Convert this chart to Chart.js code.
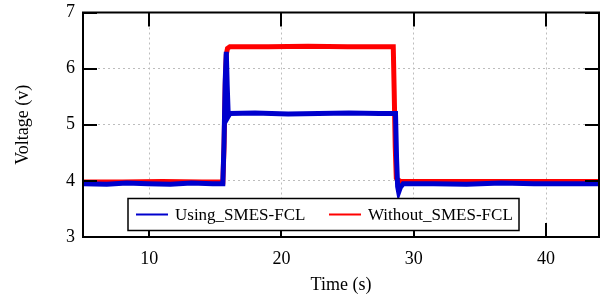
<!DOCTYPE html>
<html>
<head>
<meta charset="utf-8">
<script src="https://cdn.jsdelivr.net/npm/chart.js@4.4.0/dist/chart.umd.min.js"></script>
<style>
  html, body { margin: 0; padding: 0; background: #fff; }
</style>
</head>
<body>
<canvas id="chart" width="603" height="296"></canvas>
<script>
// Datos
const usingTime = [5, 6.8, 8.3, 9.9, 11.6, 13.2, 14.8, 15.57, 15.66, 15.75, 15.83, 15.9, 15.98, 16.1, 18.0, 20.5, 22.8, 25.1, 27.4, 28.62, 28.7, 28.78, 28.86, 28.98, 29.2, 31.5, 34.0, 36.6, 39.1, 41.7, 44];
const usingVolt = [3.95, 3.94, 3.96, 3.95, 3.94, 3.96, 3.95, 3.95, 4.7, 5.8, 6.3, 5.7, 5.15, 5.2, 5.21, 5.19, 5.2, 5.21, 5.2, 5.2, 4.4, 3.9, 3.8, 3.88, 3.95, 3.95, 3.94, 3.96, 3.95, 3.95, 3.95];

const withoutTime = [5, 8.0, 11.0, 14.0, 15.57, 15.66, 15.75, 15.83, 15.92, 16.1, 19.0, 22.0, 25.0, 28.45, 28.52, 28.6, 28.68, 28.78, 29.0, 33.0, 38.0, 44];
const withoutVolt = [3.98, 3.98, 3.99, 3.98, 3.98, 4.6, 5.7, 6.25, 6.36, 6.39, 6.39, 6.4, 6.39, 6.39, 5.6, 4.6, 4.05, 4.02, 3.99, 3.99, 3.99, 3.99];

const xTicks = [10, 20, 30, 40];
const yTicks = [3, 4, 5, 6, 7];

const seriesLabels = ['Using_SMES-FCL', 'Without_SMES-FCL'];
const seriesColors = ['#0000cd', '#ff0000'];

const serif = 'Liberation Serif';

const toPoints = (xs, ys) => xs.map((x, i) => ({ x, y: ys[i] }));

// Marco, marcas hacia dentro y leyenda dentro del área
const frameAndLegend = {
  id: 'frameAndLegend',
  afterDatasetsDraw(chart) {
    const { ctx, chartArea: a, scales: { x, y } } = chart;
    ctx.save();
    ctx.strokeStyle = '#000';
    ctx.lineWidth = 2;
    ctx.beginPath();
    xTicks.forEach(v => {
      const px = Math.round(x.getPixelForValue(v));
      ctx.moveTo(px, a.bottom); ctx.lineTo(px, a.bottom - 14);
      ctx.moveTo(px, a.top); ctx.lineTo(px, a.top + 14);
    });
    yTicks.forEach(v => {
      const py = Math.round(y.getPixelForValue(v));
      ctx.moveTo(a.left, py); ctx.lineTo(a.left + 14, py);
      ctx.moveTo(a.right, py); ctx.lineTo(a.right - 14, py);
    });
    ctx.stroke();
    ctx.strokeRect(a.left, a.top, a.right - a.left, a.bottom - a.top);

    // leyenda
    const bx = a.left + 45, by = a.top + 186, bw = 391, bh = 32;
    ctx.fillStyle = '#fff';
    ctx.fillRect(bx, by, bw, bh);
    ctx.lineWidth = 1.5;
    ctx.strokeRect(bx, by, bw, bh);
    ctx.font = '17px "' + serif + '"';
    ctx.textBaseline = 'middle';
    const items = [
      { x: bx + 8, label: seriesLabels[0], color: seriesColors[0] },
      { x: bx + 201, label: seriesLabels[1], color: seriesColors[1] }
    ];
    items.forEach(it => {
      ctx.strokeStyle = it.color;
      ctx.lineWidth = 2;
      ctx.beginPath();
      ctx.moveTo(it.x, by + bh / 2);
      ctx.lineTo(it.x + 32, by + bh / 2);
      ctx.stroke();
      ctx.fillStyle = '#000';
      ctx.fillText(it.label, it.x + 39, by + bh / 2 + 1);
    });
    ctx.restore();
  }
};

new Chart(document.getElementById('chart'), {
  type: 'line',
  data: {
    datasets: [
      {
        label: seriesLabels[0],
        data: toPoints(usingTime, usingVolt),
        borderColor: seriesColors[0],
        borderWidth: 5,
        pointRadius: 0,
        tension: 0,
        order: 1
      },
      {
        label: seriesLabels[1],
        data: toPoints(withoutTime, withoutVolt),
        borderColor: seriesColors[1],
        borderWidth: 5,
        pointRadius: 0,
        tension: 0,
        order: 2
      }
    ]
  },
  options: {
    responsive: false,
    animation: false,
    layout: { padding: { top: 11, right: 4, left: 0, bottom: 0 } },
    plugins: { legend: { display: false }, tooltip: { enabled: false } },
    scales: {
      x: {
        type: 'linear',
        min: 5,
        max: 44,
        afterBuildTicks: s => { s.ticks = xTicks.map(v => ({ value: v })); },
        afterFit: s => { s.height = 59; },
        grid: { color: '#bdbdbd', lineWidth: 1, drawTicks: false, borderDash: [2, 3] },
        border: { display: false, dash: [2, 3] },
        ticks: { color: '#000', padding: 11, font: { family: serif, size: 18 } },
        title: { display: true, text: 'Time (s)', color: '#000', font: { family: serif, size: 18 }, padding: { top: 0, bottom: 0 } }
      },
      y: {
        min: 3,
        max: 7,
        afterBuildTicks: s => { s.ticks = yTicks.map(v => ({ value: v })); },
        afterFit: s => { s.width = 83; },
        grid: { color: '#bdbdbd', lineWidth: 1, drawTicks: false, borderDash: [2, 3] },
        border: { display: false, dash: [2, 3] },
        ticks: { color: '#000', padding: 8, font: { family: serif, size: 18, lineHeight: 0.5 } },
        title: { display: true, text: 'Voltage (v)', color: '#000', font: { family: serif, size: 18 }, padding: { top: 12, bottom: 0 } }
      }
    }
  },
  plugins: [frameAndLegend]
});
</script>
</body>
</html>
